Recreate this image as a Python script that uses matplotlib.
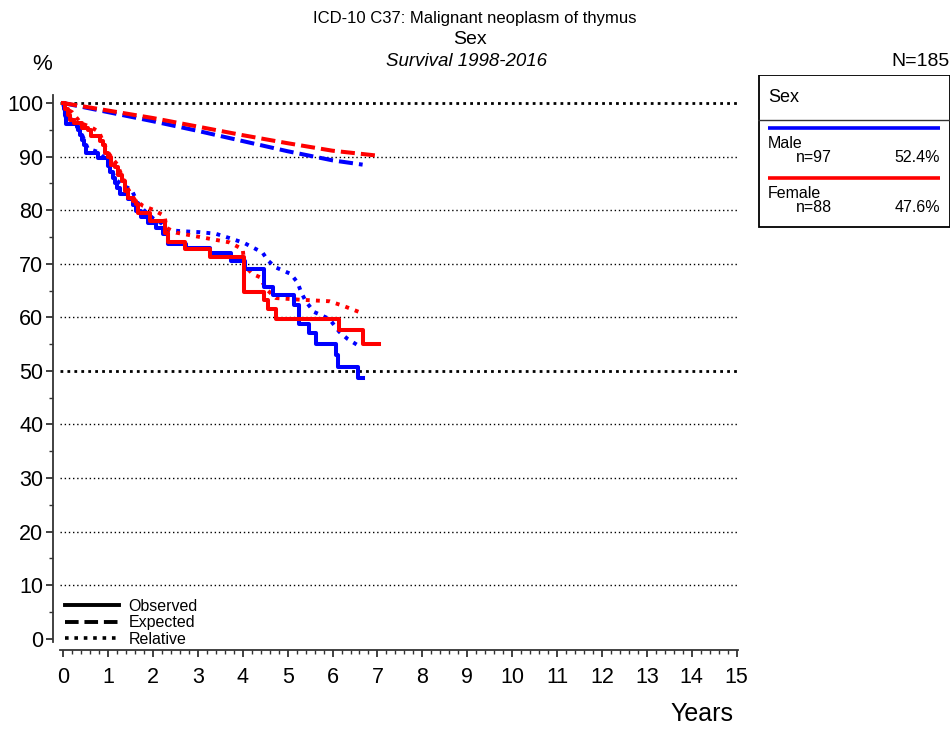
import matplotlib
matplotlib.use("Agg")
import matplotlib.pyplot as plt
from matplotlib.lines import Line2D
from matplotlib.patches import Rectangle

plt.rcParams['font.family'] = ['Liberation Sans', 'DejaVu Sans']

# observed survival (step after t)
male_obs_t = [0, 0.02, 0.04, 0.06, 0.30, 0.34, 0.38, 0.42, 0.47, 0.52, 0.78, 1.00, 1.05, 1.10,
              1.15, 1.20, 1.26, 1.45, 1.55, 1.62, 1.74, 1.90, 2.07, 2.22, 2.33, 2.74, 3.26, 3.74,
              4.04, 4.48, 4.67, 5.15, 5.26, 5.48, 5.63, 6.07, 6.13, 6.56, 6.67]
male_obs_s = [100, 98.9, 97.8, 96.1, 95.6, 95.0, 94.1, 93.1, 92.2, 90.7, 89.7, 88.2, 87.1, 86.0,
              85.0, 84.1, 83.0, 82.0, 80.9, 79.8, 78.7, 77.7, 76.7, 75.5, 73.7, 73.0, 72.0, 70.6,
              69.0, 65.6, 64.1, 62.3, 58.8, 57.0, 55.1, 52.9, 50.8, 48.6, 48.6]

female_obs_t = [0, 0.05, 0.10, 0.15, 0.25, 0.41, 0.55, 0.62, 0.82, 0.88, 0.93, 1.00, 1.07, 1.15,
                1.22, 1.30, 1.37, 1.44, 1.55, 1.63, 1.67, 1.93, 2.26, 2.33, 2.72, 3.26, 4.02,
                4.48, 4.56, 4.74, 6.15, 6.67, 7.04]
female_obs_s = [100, 98.9, 97.8, 96.8, 96.2, 95.3, 95.0, 93.8, 92.9, 92.2, 90.7, 90.0, 88.5, 88.0,
                86.6, 85.4, 83.5, 82.3, 81.7, 81.1, 79.4, 78.0, 75.8, 74.0, 72.7, 71.2, 64.8,
                63.2, 61.6, 59.6, 57.7, 55.1, 55.1]

# expected survival
male_exp_t = [0, 1, 2, 3, 4, 5, 6, 6.67]
male_exp_s = [100, 98.3, 96.6, 94.8, 92.9, 91.0, 89.3, 88.5]
female_exp_t = [0, 1, 2, 3, 4, 5, 6, 6.98]
female_exp_s = [100, 98.6, 97.2, 95.6, 94.0, 92.5, 91.1, 90.2]

# relative survival
male_rel_t = [0, 0.05, 0.30, 0.45, 0.55, 0.80, 1.00, 1.10, 1.20, 1.35, 1.52, 1.65, 1.80, 2.00,
              2.20, 2.33, 2.60, 3.04, 3.40, 3.78, 4.05, 4.44, 4.56, 4.74, 5.07, 5.22, 5.30, 5.41,
              5.59, 5.93, 6.15, 6.33, 6.56]
male_rel_s = [100, 97.5, 96.5, 93.5, 91.5, 90.8, 89.0, 87.0, 85.5, 84.5, 83.9, 81.5, 80.0, 78.5,
              77.5, 76.3, 76.1, 75.9, 75.6, 74.6, 73.8, 72.1, 70.6, 69.3, 68.1, 66.5, 64.7, 62.9,
              61.0, 59.7, 57.3, 56.0, 54.8]

female_rel_t = [0, 0.05, 0.20, 0.40, 0.60, 0.80, 0.90, 1.00, 1.10, 1.20, 1.30, 1.40, 1.50, 1.60,
                1.78, 2.00, 2.26, 2.30, 2.52, 3.11, 3.70, 4.00, 4.04, 4.22, 4.38, 4.52, 4.74,
                5.26, 5.93, 6.22, 6.59]
female_rel_s = [100, 99.0, 98.3, 96.2, 95.6, 94.6, 92.6, 90.8, 89.6, 88.6, 86.6, 84.6, 83.2, 81.9,
                80.8, 80.1, 78.9, 76.7, 75.8, 74.9, 74.0, 72.7, 69.6, 68.1, 67.5, 65.3, 63.6,
                63.3, 63.0, 62.2, 61.0]

groups = ['Male', 'Female']
group_n = [97, 88]
group_pct = ['52.4%', '47.6%']
total_n = 185

blue = '#0000ff'
red = '#ff0000'

fig = plt.figure(figsize=(9.52, 7.31), dpi=100)
ax = fig.add_axes([60 / 952, 89 / 731, 678 / 952, 547 / 731])

# grid lines
for y in range(10, 100, 10):
    lw = 2.0 if y == 50 else 1.0
    ls = (0, (1, 1.5)) if y == 50 else (0, (1, 2))
    ax.axhline(y, color='black', lw=lw, ls=ls, zorder=1)
ax.axhline(100, color='black', lw=2.0, ls=(0, (1, 1.5)), zorder=1)

dash = (0, (3.5, 1.5))
dot = (0, (1, 1.6))

ax.plot(male_exp_t, male_exp_s, color=blue, lw=2.9, ls=dash, zorder=3)
ax.plot(female_exp_t, female_exp_s, color=red, lw=2.9, ls=dash, zorder=3)
ax.plot(male_rel_t, male_rel_s, color=blue, lw=2.8, ls=dot, zorder=3)
ax.plot(female_rel_t, female_rel_s, color=red, lw=2.8, ls=dot, zorder=3)
ax.step(male_obs_t, male_obs_s, where='post', color=blue, lw=2.9, zorder=4)
ax.step(female_obs_t, female_obs_s, where='post', color=red, lw=2.9, zorder=4)

ax.set_xlim(-0.07, 15.03)
ax.set_ylim(-0.6, 101.5)
ax.set_xticks(range(0, 16))
ax.set_xticks([i * 0.2 for i in range(76)], minor=True)
ax.set_yticks(range(0, 101, 10))
ax.set_yticks(range(5, 100, 10), minor=True)

for s in ['top', 'right']:
    ax.spines[s].set_visible(False)
ax.spines['left'].set_position(('outward', 5))
ax.spines['bottom'].set_position(('outward', 6))
for s in ['left', 'bottom']:
    ax.spines[s].set_color('#333333')
    ax.spines[s].set_linewidth(1.3)

ax.tick_params(axis='both', which='major', length=5, width=1.3, color='#333333',
               labelsize=15.5)
ax.tick_params(axis='both', which='minor', length=3, width=1.0, color='#333333')
ax.tick_params(axis='x', which='major', pad=7)
ax.tick_params(axis='y', which='major', pad=2)

handles = [Line2D([], [], color='black', lw=2.8, ls='-'),
           Line2D([], [], color='black', lw=2.8, ls=dash),
           Line2D([], [], color='black', lw=2.6, ls=dot)]
ax.legend(handles, ['Observed', 'Expected', 'Relative'], loc='lower left',
          bbox_to_anchor=(-0.007, -0.026), frameon=False, fontsize=11.5,
          handlelength=3.4, handletextpad=0.6, labelspacing=0.08, borderaxespad=0.2)

# titles
fig.text(475 / 952, 1 - 19 / 731, 'ICD-10 C37: Malignant neoplasm of thymus',
         ha='center', va='center', fontsize=12)
fig.text(470 / 952, 1 - 40 / 731, 'Sex', ha='center', va='center', fontsize=14)
fig.text(467 / 952, 1 - 61 / 731, 'Survival 1998-2016', ha='center', va='center',
         fontsize=13.5, style='italic')
fig.text(42 / 952, 1 - 65 / 731, '%', ha='center', va='center', fontsize=16)
fig.text(950 / 952, 1 - 62 / 731, 'N=%d' % total_n, ha='right', va='center', fontsize=14)
fig.text(702 / 952, 1 - 714 / 731, 'Years', ha='center', va='center', fontsize=18)

# group box on the right
bx = fig.add_axes([758 / 952, 1 - 228 / 731, 192 / 952, 153 / 731])
bx.set_xlim(0, 192)
bx.set_ylim(153, 0)
bx.axis('off')
bx.add_patch(Rectangle((0.5, 0.5), 191, 152, fill=False, ec='black', lw=1.3))
bx.plot([0, 192], [45, 45], color='#333333', lw=1.0)
bx.text(10, 23, 'Sex', ha='left', va='center', fontsize=13)
for i, (g, n, p, c) in enumerate(zip(groups, group_n, group_pct, [blue, red])):
    y0 = 53 + i * 50
    bx.plot([10, 182], [y0, y0], color=c, lw=2.6, solid_capstyle='butt')
    bx.text(10, y0 + 16, g, ha='left', va='center', fontsize=11.5)
    bx.text(38, y0 + 30, 'n=%d' % n, ha='left', va='center', fontsize=11.5)
    bx.text(182, y0 + 30, p, ha='right', va='center', fontsize=11.5)

fig.savefig('out.png', dpi=100)
